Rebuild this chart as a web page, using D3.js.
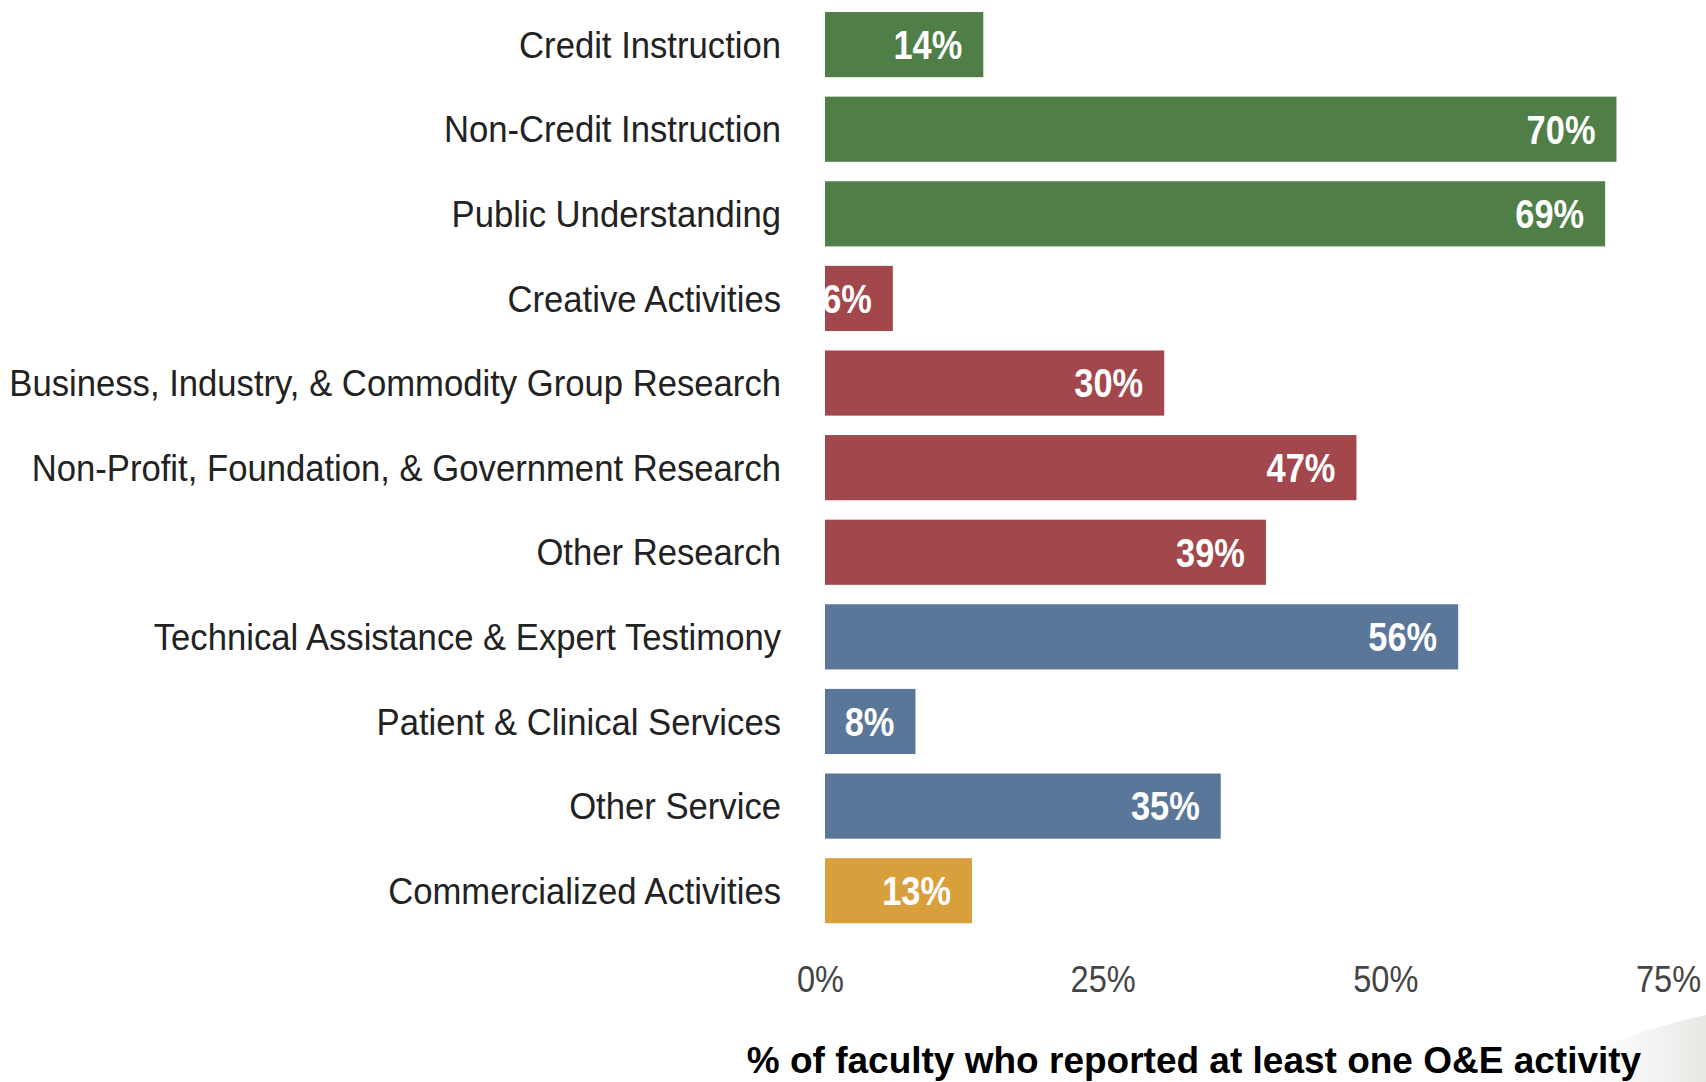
<!DOCTYPE html>
<html>
<head>
<meta charset="utf-8">
<script src="https://cdn.jsdelivr.net/npm/d3@7"></script>
<style>
  html, body { margin: 0; padding: 0; background: #ffffff; }
  svg { display: block; }
</style>
</head>
<body>
<svg id="chart" width="1706" height="1082"></svg>
<script>
const categories = [
  "Credit Instruction",
  "Non-Credit Instruction",
  "Public Understanding",
  "Creative Activities",
  "Business, Industry, & Commodity Group Research",
  "Non-Profit, Foundation, & Government Research",
  "Other Research",
  "Technical Assistance & Expert Testimony",
  "Patient & Clinical Services",
  "Other Service",
  "Commercialized Activities"
];
const values = [14, 70, 69, 6, 30, 47, 39, 56, 8, 35, 13];
const groups = ["Teaching", "Teaching", "Teaching", "Research", "Research", "Research", "Research",
                "Service", "Service", "Service", "Commercial"];
const groupNames = ["Teaching", "Research", "Service", "Commercial"];
const groupColors = ["#4f7e47", "#a2484d", "#5a7699", "#d8a03d"];
const tickValues = [0, 25, 50, 75];
const axisTitle = "% of faculty who reported at least one O&E activity";

const svg = d3.select("#chart");
const W = 1706, H = 1082;

const x = d3.scaleLinear().domain([0, 75]).range([825, 1673]);
const y = d3.scaleBand().domain(categories).range([2.3, 933]).paddingInner(0.23).paddingOuter(0.115);
const color = d3.scaleOrdinal().domain(groupNames).range(groupColors);

// faint decorative swoosh bottom-right
const defs = svg.append("defs");
const grad = defs.append("linearGradient").attr("id", "sw").attr("x1", 0).attr("y1", 0).attr("x2", 1).attr("y2", 0);
grad.append("stop").attr("offset", "0%").attr("stop-color", "#ffffff").attr("stop-opacity", 0);
grad.append("stop").attr("offset", "100%").attr("stop-color", "#e6e8e4").attr("stop-opacity", 1);
svg.append("path")
  .attr("d", "M1540,1082 C1580,1050 1640,1030 1706,1015 L1706,1082 Z")
  .attr("fill", "url(#sw)");

defs.append("clipPath").attr("id", "plotclip")
  .append("rect").attr("x", x(0)).attr("y", 0).attr("width", W - x(0)).attr("height", H);

const rows = categories.map((c, i) => ({ c, v: values[i], g: groups[i] }));

svg.append("g").selectAll("rect").data(rows).join("rect")
  .attr("x", x(0))
  .attr("y", d => y(d.c))
  .attr("width", d => x(d.v) - x(0))
  .attr("height", y.bandwidth())
  .attr("fill", d => color(d.g));

// value labels
const vl = svg.append("g").attr("clip-path", "url(#plotclip)");
vl.selectAll("text").data(rows).join("text")
  .attr("transform", d => `translate(${x(d.v) - 21},${y(d.c) + y.bandwidth() / 2}) scale(0.86,1)`)
  .attr("text-anchor", "end")
  .attr("dy", "0.36em")
  .attr("font-family", "Liberation Sans, Arial, sans-serif")
  .attr("font-weight", "bold")
  .attr("font-size", 40)
  .attr("fill", "#ffffff")
  .text(d => d.v + "%");

// category labels
svg.append("g").selectAll("text").data(rows).join("text")
  .attr("transform", d => `translate(781,${y(d.c) + y.bandwidth() / 2}) scale(0.95,1)`)
  .attr("text-anchor", "end")
  .attr("dy", "0.36em")
  .attr("font-family", "Liberation Sans, Arial, sans-serif")
  .attr("font-size", 36.5)
  .attr("fill", "#222222")
  .text(d => d.c);

// x axis
const axis = d3.axisBottom(x).tickValues(tickValues).tickSize(0).tickFormat(d => d + "%");
const ax = svg.append("g").attr("transform", "translate(-5,960)").call(axis);
ax.select(".domain").remove();
ax.selectAll(".tick text")
  .attr("font-family", "Liberation Sans, Arial, sans-serif")
  .attr("font-size", 37)
  .attr("fill", "#444444")
  .attr("y", 0)
  .attr("dy", "0.86em")
  .attr("text-anchor", "middle")
  .attr("transform", "scale(0.88,1)");

// axis title
svg.append("text")
  .attr("x", 1194)
  .attr("y", 1073)
  .attr("text-anchor", "middle")
  .attr("font-family", "Liberation Sans, Arial, sans-serif")
  .attr("font-weight", "bold")
  .attr("font-size", 37)
  .attr("fill", "#000000")
  .text(axisTitle);
</script>
</body>
</html>
